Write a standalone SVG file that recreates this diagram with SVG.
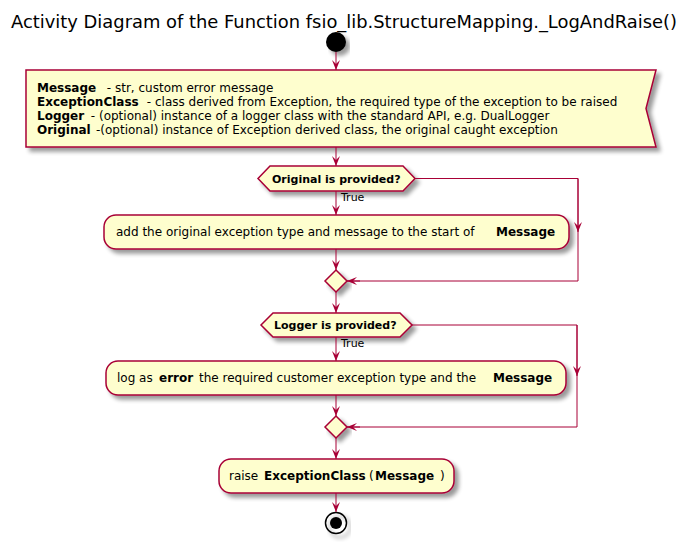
<svg xmlns="http://www.w3.org/2000/svg" width="682" height="543" viewBox="0 0 682 543">
<style>
text{font-family:"DejaVu Sans",Verdana,sans-serif;fill:#000}
.t{font-size:12px}
.b{font-weight:bold}
.s{font-size:11px}
.box{fill:#FEFECE;stroke:#A80036;stroke-width:1.5}
.ln{fill:none;stroke:#A80036;stroke-width:1}
</style>
<defs>
<filter id="sh" x="-10%" y="-20%" width="130%" height="160%">
<feGaussianBlur in="SourceAlpha" stdDeviation="2"/>
<feOffset dx="4" dy="4" result="o"/>
<feComponentTransfer><feFuncA type="linear" slope="0.4"/></feComponentTransfer>
<feMerge><feMergeNode/><feMergeNode in="SourceGraphic"/></feMerge>
</filter>
<marker id="arr" viewBox="0 0 10 10" refX="10" refY="5" markerWidth="10" markerHeight="10" markerUnits="userSpaceOnUse" orient="auto">
<path d="M0,1 L10,5 L0,9 L4,5 Z" fill="#A80036"/>
</marker>
</defs>
<text x="11" y="28" style="font-size:18px" textLength="666" lengthAdjust="spacingAndGlyphs">Activity Diagram of the Function fsio_lib.StructureMapping._LogAndRaise()</text>

<g id="start"><circle cx="336" cy="42" r="10" fill="#000" filter="url(#sh)"/></g>

<g id="params">
<path class="box" filter="url(#sh)" d="M26,70 L656,70 L646,108.5 L656,147 L26,147 Z"/>
<text class="t" x="37" y="92"><tspan class="b">Message</tspan><tspan x="103"> - str, custom error message</tspan></text>
<text class="t" x="37" y="106"><tspan class="b">ExceptionClass</tspan><tspan x="143"> - class derived from Exception, the required type of the exception to be raised</tspan></text>
<text class="t" x="37" y="120"><tspan class="b">Logger</tspan><tspan x="87"> - (optional) instance of a logger class with the standard API, e.g. DualLogger</tspan></text>
<text class="t" x="37" y="134"><tspan class="b">Original</tspan><tspan x="96">-(optional) instance of Exception derived class, the original caught exception</tspan></text>
</g>

<g id="if1">
<path class="box" filter="url(#sh)" d="M270,166 L403,166 L415,178.5 L403,191 L270,191 L258,178.5 Z"/>
<text class="s b" x="272" y="182.5">Original  is provided?</text>
</g>

<g id="act1">
<rect class="box" filter="url(#sh)" x="104" y="215" width="465" height="34" rx="12" ry="12"/>
<text class="t" x="116" y="236">add the original exception type and message to the start of<tspan class="b" x="496">Message</tspan></text>
</g>

<g id="merge1"><path class="box" filter="url(#sh)" d="M336,270 L347,281 L336,292 L325,281 Z"/></g>

<g id="if2">
<path class="box" filter="url(#sh)" d="M273,313 L400,313 L412,325 L400,337 L273,337 L261,325 Z"/>
<text class="s b" x="274" y="329">Logger is provided?</text>
</g>

<g id="act2">
<rect class="box" filter="url(#sh)" x="106" y="361" width="460" height="34" rx="12" ry="12"/>
<text class="t" x="117" y="382">log as<tspan class="b" x="159">error</tspan><tspan x="199">the required customer exception type and the</tspan><tspan class="b" x="493">Message</tspan></text>
</g>

<g id="merge2"><path class="box" filter="url(#sh)" d="M336,416 L347,427 L336,438 L325,427 Z"/></g>

<g id="raise">
<rect class="box" filter="url(#sh)" x="219" y="459" width="235" height="34" rx="12" ry="12"/>
<text class="t" x="229" y="480">raise<tspan class="b" x="264">ExceptionClass</tspan><tspan x="369">(</tspan><tspan class="b" x="375">Message</tspan><tspan x="440">)</tspan></text>
</g>

<g id="end">
<circle cx="336" cy="523" r="10.5" fill="none" stroke="#000" stroke-width="1.5" filter="url(#sh)"/>
<circle cx="336" cy="523" r="6" fill="#000"/>
</g>

<g id="connectors">
<line class="ln" x1="336" y1="52" x2="336" y2="70" marker-end="url(#arr)"/>
<line class="ln" x1="336" y1="147" x2="336" y2="166" marker-end="url(#arr)"/>
<line class="ln" x1="336" y1="191" x2="336" y2="215" marker-end="url(#arr)"/>
<text class="s" x="341" y="201">True</text>
<line class="ln" x1="336" y1="249" x2="336" y2="270" marker-end="url(#arr)"/>
<polyline class="ln" points="415,178.5 578,178.5 578,281 347,281"/>
<line class="ln" x1="578" y1="178.5" x2="578" y2="232" marker-end="url(#arr)"/>
<line class="ln" x1="360" y1="281" x2="347" y2="281" marker-end="url(#arr)"/>
<line class="ln" x1="336" y1="292" x2="336" y2="313" marker-end="url(#arr)"/>
<line class="ln" x1="336" y1="337" x2="336" y2="361" marker-end="url(#arr)"/>
<text class="s" x="341" y="347">True</text>
<line class="ln" x1="336" y1="395" x2="336" y2="416" marker-end="url(#arr)"/>
<polyline class="ln" points="412,325 577,325 577,427 347,427"/>
<line class="ln" x1="577" y1="325" x2="577" y2="376" marker-end="url(#arr)"/>
<line class="ln" x1="360" y1="427" x2="347" y2="427" marker-end="url(#arr)"/>
<line class="ln" x1="336" y1="438" x2="336" y2="459" marker-end="url(#arr)"/>
<line class="ln" x1="336" y1="493" x2="336" y2="512" marker-end="url(#arr)"/>
</g>
</svg>
